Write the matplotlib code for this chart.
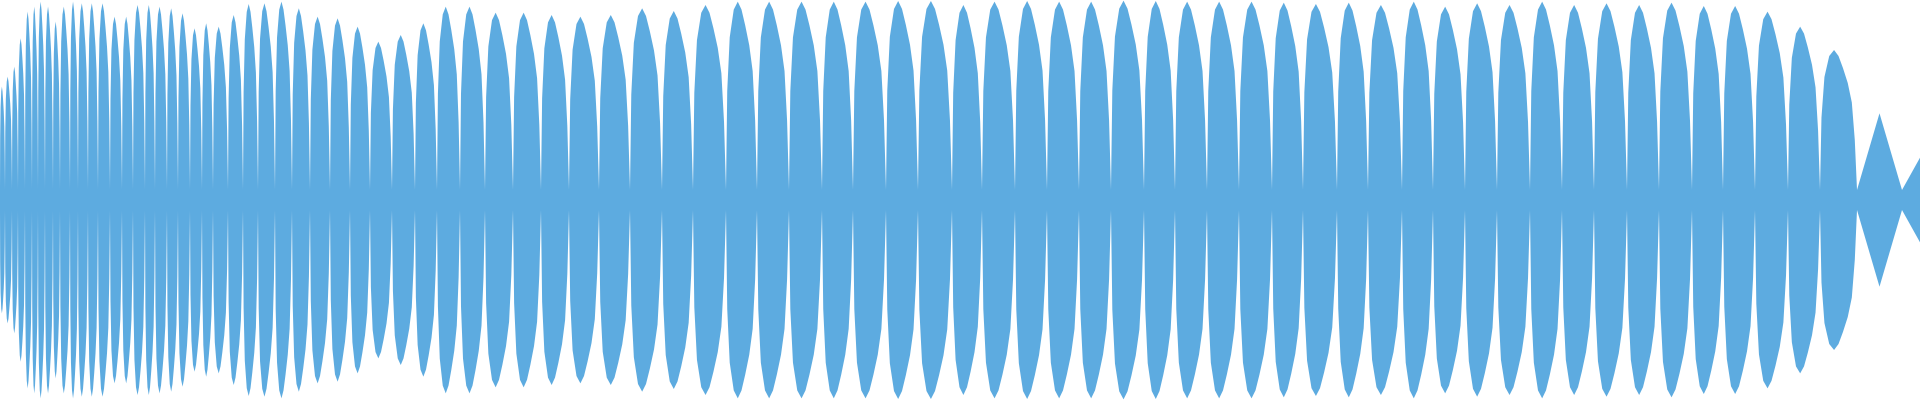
import numpy as np
import matplotlib
matplotlib.use("Agg")
import matplotlib.pyplot as plt

# lobe boundaries (sample positions) and peak amplitudes (fraction of full scale)
lobe_bounds = [0, 5, 12, 18, 25, 32, 38, 45, 53, 60, 70, 78, 88, 98, 110, 122, 133, 145, 155,
               167, 178, 190, 202, 213, 228, 243, 258, 275, 292, 310, 330, 350, 370, 392, 415,
               437, 460, 485, 513, 541, 569, 599, 630, 662, 693, 726, 757, 789, 822, 853, 886,
               918, 952, 982, 1015, 1047, 1079, 1111, 1144, 1175, 1207, 1239, 1272, 1303, 1337,
               1368, 1402, 1433, 1465, 1497, 1530, 1562, 1594, 1627, 1659, 1692, 1723, 1755,
               1788, 1820, 1857, 1902, 1980]
peak_tops = [260, 230, 200, 115, 35, 20, 5, 20, 65, 20, 5, 10, 10, 10, 50, 50, 15, 15, 20,
             25, 40, 85, 70, 80, 45, 12, 10, 5, 25, 50, 55, 80, 125, 105, 70, 20, 20,
             38, 38, 45, 50, 45, 25, 33, 15, 5, 5, 5, 5, 5, 3, 3,
             15, 5, 3, 5, 5, 2, 3, 5, 5, 5, 8, 12, 8, 15, 5,
             20, 10, 15, 5, 15, 10, 15, 8, 18, 18, 35, 80, 150, 340, 360]
peak_amp = [1 - t / 600 for t in peak_tops]
lobe_shape_pos = [0, 0.04, 0.12, 0.25, 0.38, 0.5, 0.62, 0.75, 0.86, 0.94, 1.0]
lobe_shape_amp = [0, 0.55, 0.82, 0.96, 1.0, 0.96, 0.88, 0.78, 0.65, 0.4, 0]
tail_shape_pos = [0, 0.5, 1.0]
tail_shape_amp = [0, 1.0, 0]
BAND = 0.05

xs, ys = [], []
for i, a in enumerate(peak_amp):
    s, e = lobe_bounds[i], lobe_bounds[i + 1]
    sp, sa = (lobe_shape_pos, lobe_shape_amp) if i < len(peak_amp) - 2 else (tail_shape_pos, tail_shape_amp)
    for p, h in zip(sp[:-1], sa[:-1]):
        xs.append(s + p * (e - s))
        ys.append(a * h)
xs.append(lobe_bounds[-1]); ys.append(0)
xs = np.array(xs); ys = np.maximum(np.array(ys), BAND)

fig = plt.figure(figsize=(19.2, 4), dpi=100)
ax = fig.add_axes([0, 0, 1, 1])
ax.fill_between(xs, ys, -ys, color="#5DABE0", linewidth=0)
ax.set_xlim(0, 1920)
ax.set_ylim(-1.0, 1.0)
ax.axis("off")
fig.savefig("out.png", dpi=100)
